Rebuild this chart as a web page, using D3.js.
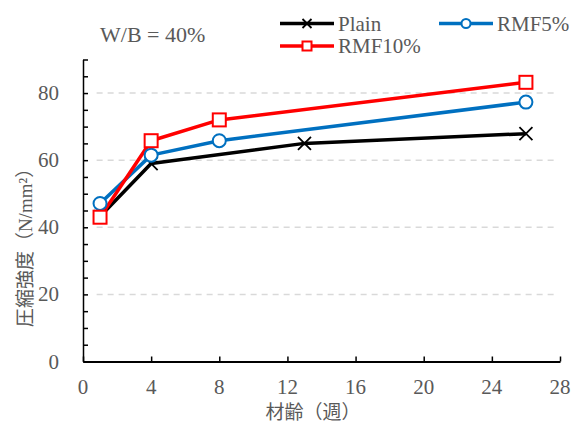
<!DOCTYPE html>
<html>
<head>
<meta charset="utf-8">
<script src="https://cdn.jsdelivr.net/npm/d3@7"></script>
<style>
  body { margin: 0; background: #fff; }
  text { font-family: "Liberation Serif", "Times New Roman", "Noto Sans CJK JP", serif; fill: #595959; }
</style>
</head>
<body>
<div id="chart"></div>
<script>
// data
var plain = [[1, 43.2], [4, 59.0], [13, 65.0], [26, 67.9]];
var rmf5 = [[1, 47.1], [4, 61.5], [8, 65.8], [26, 77.3]];
var rmf10 = [[1, 43.0], [4, 65.8], [8, 72.0], [26, 83.2]];
var xTicks = [0, 4, 8, 12, 16, 20, 24, 28];
var yTicks = [0, 20, 40, 60, 80];
var gridVals = [20, 40, 60, 80];
var seriesNames = ["Plain", "RMF5%", "RMF10%"];

// formatting parameters
var W = 571, H = 422;
var margin = { top: 59.5, left: 83 };
var width = 560 - margin.left;
var height = 361.5 - margin.top;

var svg = d3.select("#chart").append("svg")
    .attr("width", W)
    .attr("height", H);

var g = svg.append("g")
    .attr("transform", "translate(" + margin.left + "," + margin.top + ")");

var x = d3.scaleLinear().domain([0, 28]).range([0, width]);
var y = d3.scaleLinear().domain([0, 90]).range([height, 0]);

// grid lines
g.selectAll(".grid")
    .data(gridVals)
    .enter().append("line")
    .attr("x1", x(0.8)).attr("x2", x(27.7))
    .attr("y1", function (d) { return y(d); })
    .attr("y2", function (d) { return y(d); })
    .attr("stroke", "#d9d9d9")
    .attr("stroke-width", 1.5)
    .attr("stroke-dasharray", "6,5");

// y-axis: minor ticks every 5, labels every 20
var yAxis = d3.axisLeft(y)
    .tickValues(d3.range(0, 91, 5))
    .tickSizeInner(-5)
    .tickSizeOuter(0)
    .tickFormat("");
var yg = g.append("g").call(yAxis);
yg.select(".domain").attr("stroke", "#000").attr("stroke-width", 1.5);
yg.selectAll(".tick line").attr("stroke", "#000").attr("stroke-width", 1.5);

g.selectAll(".ylab")
    .data(yTicks)
    .enter().append("text")
    .attr("x", -24)
    .attr("y", function (d) { return y(d) + 7; })
    .attr("text-anchor", "end")
    .style("font-size", "21px")
    .text(function (d) { return d; });

// x-axis
var xAxis = d3.axisBottom(x)
    .tickValues(xTicks)
    .tickSizeInner(-5)
    .tickSizeOuter(0)
    .tickFormat("");
var xg = g.append("g")
    .attr("transform", "translate(0," + height + ")")
    .call(xAxis);
xg.select(".domain").attr("stroke", "#000").attr("stroke-width", 2);
xg.selectAll(".tick line").attr("stroke", "#000").attr("stroke-width", 1.5);

g.selectAll(".xlab")
    .data(xTicks)
    .enter().append("text")
    .attr("x", function (d) { return x(d); })
    .attr("y", height + 32)
    .attr("text-anchor", "middle")
    .style("font-size", "21px")
    .text(function (d) { return d; });

// axis titles
svg.append("text")
    .attr("x", 313).attr("y", 419)
    .attr("text-anchor", "middle")
    .style("font-size", "19px")
    .text("材齢（週）");

svg.append("text")
    .attr("transform", "translate(32,243) rotate(-90)")
    .attr("text-anchor", "middle")
    .style("font-size", "19px")
    .text("圧縮強度（N/mm²）");

// series
var series = [
    { name: seriesNames[0], data: plain, color: "#000000", marker: "x" },
    { name: seriesNames[1], data: rmf5, color: "#0070c0", marker: "circle" },
    { name: seriesNames[2], data: rmf10, color: "#ff0000", marker: "square" }
];

var line = d3.line()
    .x(function (d) { return x(d[0]); })
    .y(function (d) { return y(d[1]); });

function drawMarker(sel, type, color, s) {
    if (type == "x") {
        sel.append("path")
            .attr("d", "M-" + s + ",-" + s + "L" + s + "," + s + "M-" + s + "," + s + "L" + s + ",-" + s)
            .attr("stroke", color).attr("stroke-width", 1.8).attr("fill", "none");
    } else if (type == "circle") {
        sel.append("circle")
            .attr("r", s)
            .attr("fill", "#fff").attr("stroke", color).attr("stroke-width", 2);
    } else {
        sel.append("rect")
            .attr("x", -s).attr("y", -s)
            .attr("width", 2 * s).attr("height", 2 * s)
            .attr("fill", "#fff").attr("stroke", color).attr("stroke-width", 2);
    }
}

series.forEach(function (s) {
    g.append("path")
        .datum(s.data)
        .attr("d", line)
        .attr("fill", "none")
        .attr("stroke", s.color)
        .attr("stroke-width", 3.5)
        .attr("stroke-linejoin", "round");
});
series.forEach(function (s) {
    g.selectAll(null)
        .data(s.data)
        .enter().append("g")
        .attr("transform", function (d) { return "translate(" + x(d[0]) + "," + y(d[1]) + ")"; })
        .each(function () { drawMarker(d3.select(this), s.marker, s.color, 6.5); });
});

// legend
var legendPos = [[280, 23.5], [439, 23.5], [280, 46]];
series.forEach(function (s, i) {
    var lg = svg.append("g")
        .attr("transform", "translate(" + legendPos[i][0] + "," + legendPos[i][1] + ")");
    lg.append("line")
        .attr("x1", 0).attr("x2", 54)
        .attr("stroke", s.color).attr("stroke-width", 3.5);
    var m = lg.append("g").attr("transform", "translate(27,0)");
    drawMarker(m, s.marker, s.color, 4.5);
    lg.append("text")
        .attr("x", 58).attr("y", 7)
        .style("font-size", "21px")
        .text(s.name);
});

// annotation
svg.append("text")
    .attr("x", 100).attr("y", 41.5)
    .style("font-size", "22px")
    .text("W/B = 40%");
</script>
</body>
</html>
